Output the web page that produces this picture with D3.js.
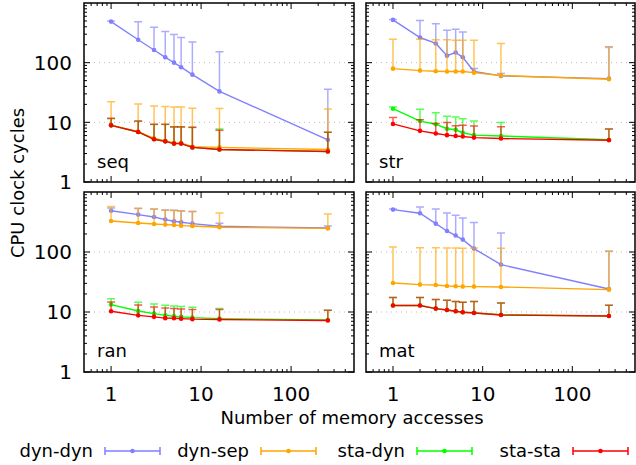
<!DOCTYPE html>
<html lang="en">
<head>
<meta charset="UTF-8">
<title>CPU clock cycles</title>
<script src="https://d3js.org/d3.v7.min.js"></script>
<style>
  body { margin: 0; background: #fff; }
  svg { font-family: "DejaVu Sans", sans-serif; }
  .frame { fill: none; stroke: #000; stroke-width: 1.5px; }
  .grid { stroke: #bbb; stroke-width: 1px; stroke-dasharray: 1,4; }
  .tick { stroke: #000; stroke-width: 1px; }
  .tlabel { font-size: 20px; fill: #000; }
  .label { font-size: 18px; fill: #000; }
</style>
</head>
<body>
<script>
// x positions: number of memory accesses
const accesses = [1, 2, 3, 4, 5, 6, 8, 16, 256];
const seriesNames = ["dyn-dyn", "dyn-sep", "sta-dyn", "sta-sta"];
const seriesColors = ["#8080ff", "#ffa500", "#00ff00", "#ff0000"];
const panelNames = ["seq", "str", "ran", "mat"];
const yTicks = [1, 10, 100];
const xTicks = [1, 10, 100];

// seq
const seqDynDyn   = [488, 242, 163, 123, 100, 84, 63, 33, 5.1];
const seqDynDynHi = [500, 483, 393, 332, 296, 264, 223, 152, 36];
const seqDynSep   = [9.0, 7.0, 5.4, 4.9, 4.5, 4.5, 3.9, 3.8, 3.5];
const seqDynSepHi = [22.2, 20.2, 18.7, 18.5, 18, 18, 17.3, 17, 16.7];
const seqStaDyn   = [8.9, 6.9, 5.2, 4.8, 4.4, 4.4, 3.8, 3.5, 3.25];
const seqStaDynHi = [11.5, 10.4, 9.2, 9.2, 8.3, 8.3, 8.2, 7.7, 6.8];
const seqStaSta   = [8.9, 6.9, 5.2, 4.8, 4.4, 4.4, 3.8, 3.5, 3.25];
const seqStaStaHi = [11.7, 10.5, 9.3, 9.3, 8.4, 8.4, 8.3, 7.4, 6.8];

// str
const strDynDyn   = [521, 264, 210, 131, 148, 123, 71, 60, 54];
const strDynDynHi = [530, 507, 447, 351, 363, 328, 80, 66, 185];
const strDynSep   = [79.4, 73.6, 72, 71, 71, 71, 68, 60.8, 52.7];
const strDynSepHi = [248, 248, 242, 242, 237, 237, 237, 210, 180];
const strStaDyn   = [16.9, 10.5, 9.3, 7.8, 7.5, 6.7, 6.1, 5.9, 5.1];
const strStaDynHi = [18, 16.5, 14.5, 12.6, 12.3, 11.5, 10.5, 9.9, 7.7];
const strStaSta   = [9.4, 7.2, 6.5, 6.1, 5.9, 5.8, 5.55, 5.35, 5.0];
const strStaStaHi = [12, 11.1, 9.6, 9.9, 8.8, 8.9, 8.7, 8.4, 7.7];

// ran
const ranDynDyn   = [486, 420, 383, 347, 325, 313, 297, 268, 251];
const ranDynDynHi = [540, 530, 520, 500, 495, 485, 475, 300, 270];
const ranDynSep   = [329, 304, 293, 286, 282, 275, 271, 258, 248];
const ranDynSepHi = [571, 535, 515, 495, 490, 480, 471, 447, 430];
const ranStaDyn   = [13.3, 10.4, 9.4, 8.8, 8.5, 8.3, 8.05, 7.75, 7.35];
const ranStaDynHi = [16.7, 14.5, 13.6, 12.9, 12.6, 12.3, 12, 11.4, 10.7];
const ranStaSta   = [10.3, 8.8, 8.3, 7.9, 7.85, 7.75, 7.6, 7.5, 7.2];
const ranStaStaHi = [14.7, 13.1, 12.1, 11.7, 11.4, 11.2, 11, 11, 10.7];

// mat
const matDynDyn   = [509, 442, 297, 224, 188, 161, 114, 61.7, 24.2];
const matDynDynHi = [520, 562, 521, 447, 409, 369, 309, 207, 103];
const matDynSep   = [30.4, 28.6, 28.2, 27.1, 26.8, 26.5, 26.5, 26.1, 23.6];
const matDynSepHi = [121, 118, 118, 117, 117, 116, 117, 116, 103];
const matStaDyn   = [12.8, 12.8, 11.4, 10.8, 10.3, 9.9, 9.7, 9.0, 8.6];
const matStaDynHi = [17.4, 17.4, 16.1, 15.7, 14.9, 14.5, 14.9, 14.1, 12.9];
const matStaSta   = [12.8, 12.8, 11.4, 10.8, 10.3, 9.9, 9.6, 8.9, 8.6];
const matStaStaHi = [17.4, 17.4, 16.1, 15.7, 14.9, 14.5, 14.9, 14.1, 12.9];

const panelData = {
    seq: [[seqDynDyn, seqDynDynHi], [seqDynSep, seqDynSepHi], [seqStaDyn, seqStaDynHi], [seqStaSta, seqStaStaHi]],
    str: [[strDynDyn, strDynDynHi], [strDynSep, strDynSepHi], [strStaDyn, strStaDynHi], [strStaSta, strStaStaHi]],
    ran: [[ranDynDyn, ranDynDynHi], [ranDynSep, ranDynSepHi], [ranStaDyn, ranStaDynHi], [ranStaSta, ranStaStaHi]],
    mat: [[matDynDyn, matDynDynHi], [matDynSep, matDynSepHi], [matStaDyn, matStaDynHi], [matStaSta, matStaStaHi]]
};

const width = 636, height = 465;
const cols = [[84, 354], [366, 635]];
const rows = [[3, 182], [192, 372]];

const svg = d3.select("body").append("svg")
    .attr("width", width)
    .attr("height", height);

// minor tick values for a log domain
function minors(lo, hi) {
    const out = [];
    for (let d = 0.1; d <= 1000; d *= 10) {
        for (let k = 2; k <= 9; k++) {
            const v = k * d;
            if (v > lo * 1.0001 && v < hi * 0.9999) out.push(v);
        }
    }
    return out;
}

panelNames.forEach((name, pi) => {
    const col = pi % 2, row = Math.floor(pi / 2);
    const [xl, xr] = cols[col];
    const [yt, yb] = rows[row];

    const x = d3.scaleLog().domain([0.5, 500]).range([xl, xr]);
    const y = d3.scaleLog().domain([1, 1000]).range([yb, yt]);

    const g = svg.append("g");

    // dotted grid at major y ticks
    g.selectAll(".grid").data([10, 100]).enter().append("line")
        .attr("class", "grid")
        .attr("x1", xl).attr("x2", xr)
        .attr("y1", d => y(d)).attr("y2", d => y(d));

    // ticks on all four sides, pointing inward
    const yMaj = yTicks, yMin = minors(1, 1000);
    const xMaj = xTicks, xMin = minors(0.5, 500);
    const tk = g.append("g");
    yMaj.concat(yMin).forEach(v => {
        const len = yMaj.includes(v) ? 6 : 3;
        tk.append("line").attr("class", "tick")
            .attr("x1", xl).attr("x2", xl + len).attr("y1", y(v)).attr("y2", y(v));
        tk.append("line").attr("class", "tick")
            .attr("x1", xr).attr("x2", xr - len).attr("y1", y(v)).attr("y2", y(v));
    });
    xMaj.concat(xMin).forEach(v => {
        const len = xMaj.includes(v) ? 6 : 3;
        tk.append("line").attr("class", "tick")
            .attr("y1", yb).attr("y2", yb - len).attr("x1", x(v)).attr("x2", x(v));
        tk.append("line").attr("class", "tick")
            .attr("y1", yt).attr("y2", yt + len).attr("x1", x(v)).attr("x2", x(v));
    });

    // tick labels
    if (col === 0) {
        g.selectAll(".ylab").data(yTicks).enter().append("text")
            .attr("class", "tlabel")
            .attr("x", 72).attr("y", d => y(d))
            .attr("dy", "0.36em")
            .attr("text-anchor", "end")
            .text(d => d);
    }
    if (row === 1) {
        g.selectAll(".xlab").data(xTicks).enter().append("text")
            .attr("class", "tlabel")
            .attr("x", d => x(d)).attr("y", 401)
            .attr("text-anchor", "middle")
            .text(d => d);
    }

    // series
    const line = d3.line().x(d => x(d[0])).y(d => y(d[1]));
    panelData[name].forEach((s, si) => {
        const [vals, hi] = s;
        const pts = accesses.map((a, i) => [a, vals[i], hi[i]]);
        const c = seriesColors[si];
        const sg = g.append("g");

        sg.selectAll(".err").data(pts).enter().append("path")
            .attr("fill", "none")
            .attr("stroke", c)
            .attr("stroke-width", 1.5)
            .attr("stroke-opacity", 0.65)
            .attr("d", d => `M${x(d[0])},${y(d[1])}V${y(d[2])}M${x(d[0]) - 4},${y(d[2])}H${x(d[0]) + 4}`);

        sg.append("path").datum(pts)
            .attr("fill", "none")
            .attr("stroke", c)
            .attr("stroke-width", 1.4)
            .attr("d", line);

        sg.selectAll("circle").data(pts).enter().append("circle")
            .attr("cx", d => x(d[0])).attr("cy", d => y(d[1]))
            .attr("r", 2.3)
            .attr("fill", c);
    });

    g.append("rect").attr("class", "frame")
        .attr("x", xl).attr("y", yt)
        .attr("width", xr - xl).attr("height", yb - yt);

    g.append("text").attr("class", "label")
        .attr("x", xl + 13).attr("y", yt + 165)
        .text(name);
});

// axis titles
svg.append("text").attr("class", "label")
    .attr("transform", "translate(24,183) rotate(-90)")
    .attr("text-anchor", "middle")
    .text("CPU clock cycles");

svg.append("text").attr("class", "label")
    .attr("x", 352).attr("y", 424)
    .attr("text-anchor", "middle")
    .text("Number of memory accesses");

// legend
const legX = [93, 249, 405, 561];
seriesNames.forEach((n, i) => {
    const lx = legX[i], ly = 451;
    const c = seriesColors[i];
    svg.append("text").attr("class", "label")
        .attr("x", lx).attr("y", ly + 6)
        .attr("text-anchor", "end")
        .text(n);
    const sx0 = lx + 12, sx1 = lx + 67;
    svg.append("path")
        .attr("fill", "none").attr("stroke", c).attr("stroke-width", 1.5)
        .attr("d", `M${sx0},${ly}H${sx1}M${sx0},${ly - 4}V${ly + 4}M${sx1},${ly - 4}V${ly + 4}`);
    svg.append("circle").attr("cx", (sx0 + sx1) / 2).attr("cy", ly).attr("r", 2.3).attr("fill", c);
});
</script>
</body>
</html>
